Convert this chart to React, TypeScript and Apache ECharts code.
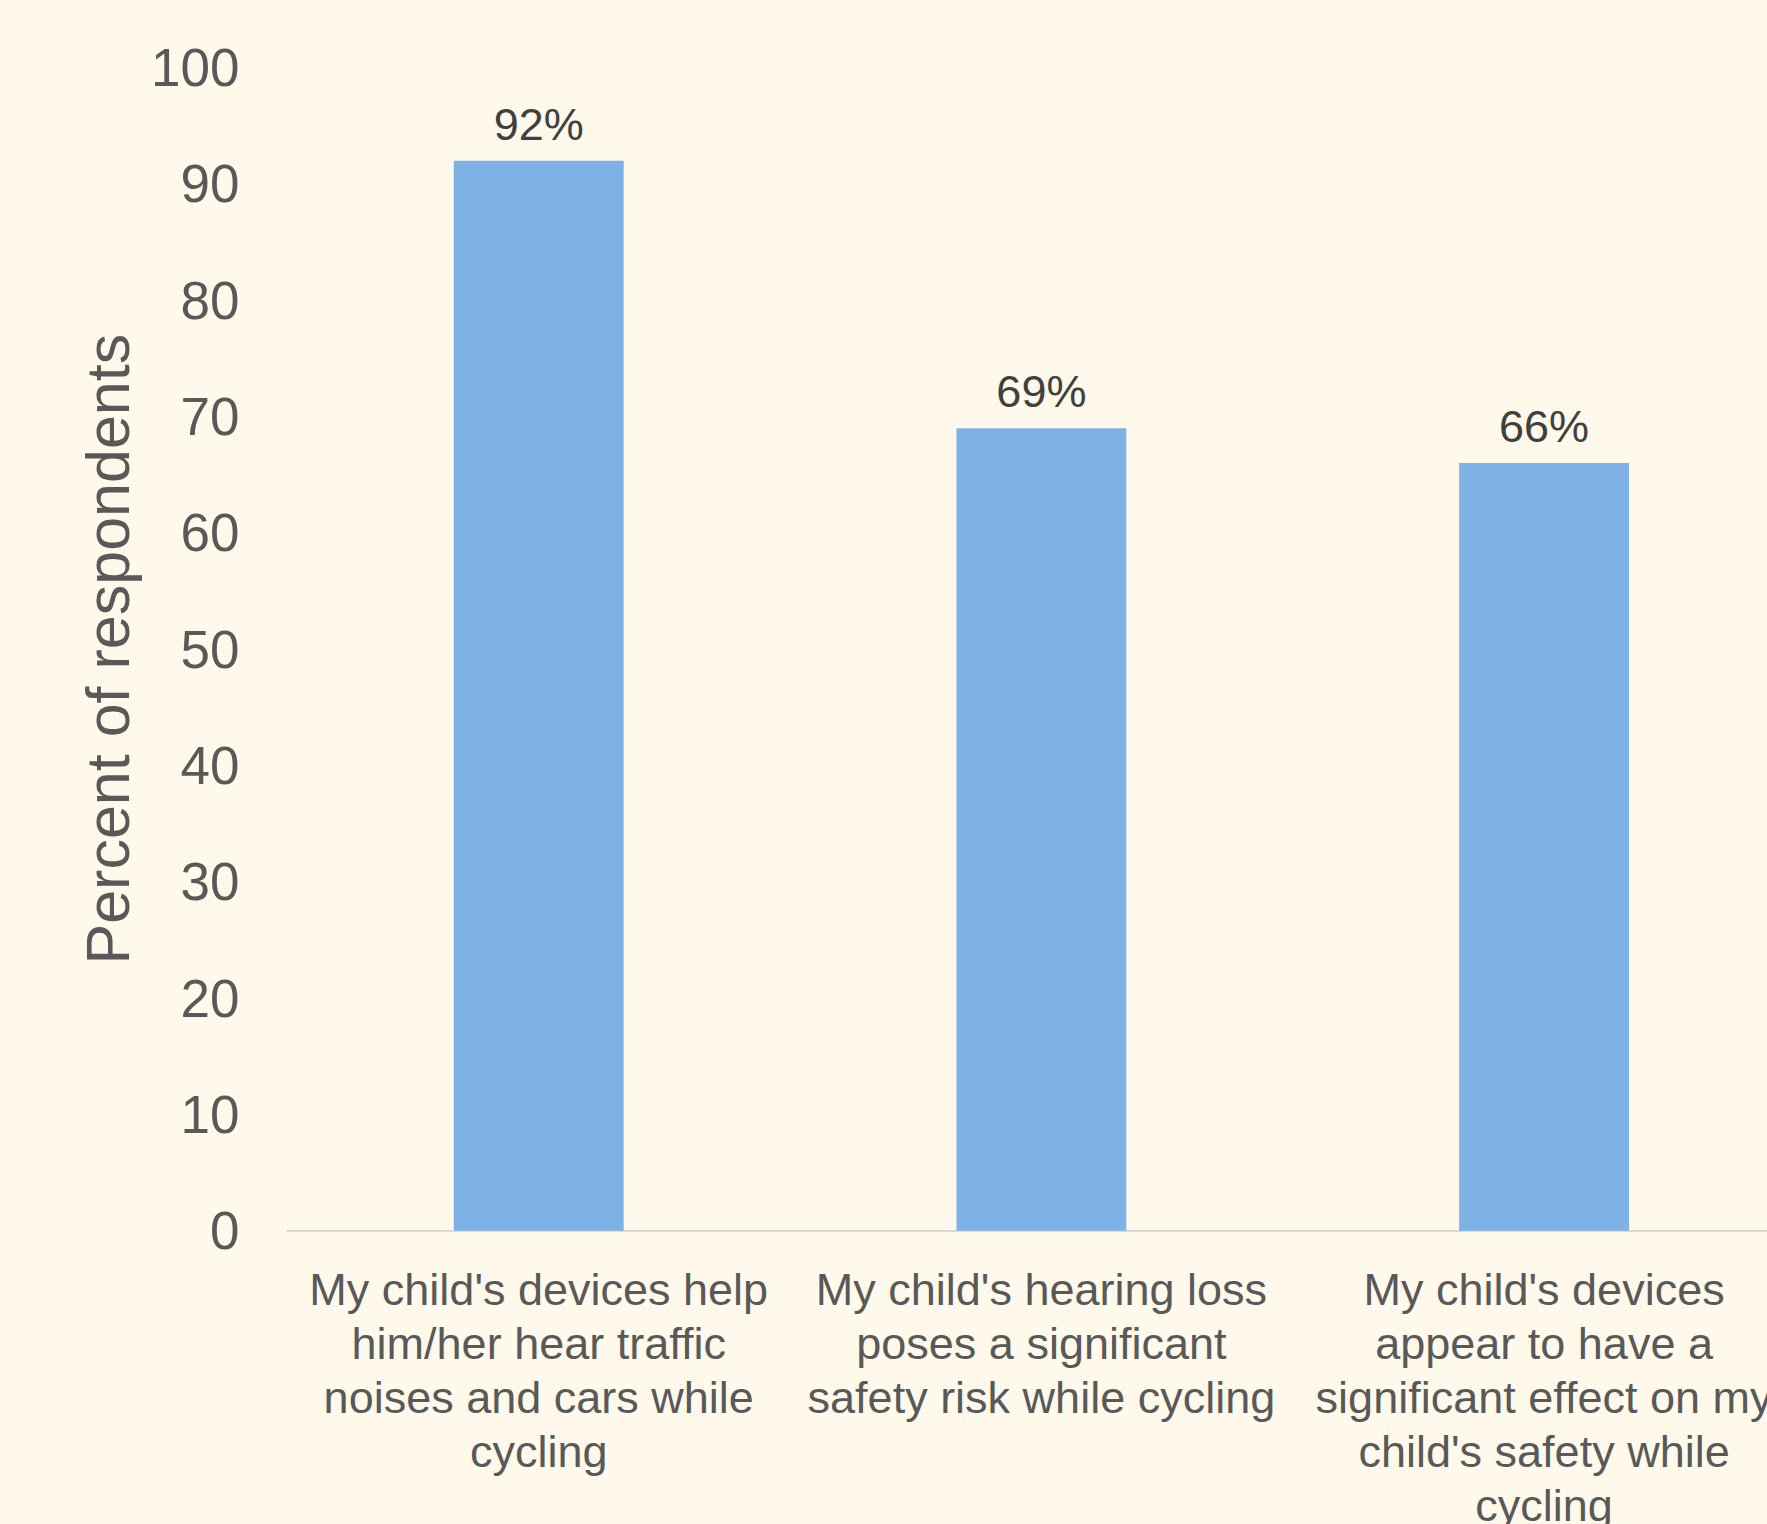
import React, { useEffect, useRef } from "react";
import * as echarts from "echarts";

const categories = [
  "My child's devices help\nhim/her hear traffic\nnoises and cars while\ncycling",
  "My child's hearing loss\nposes a significant\nsafety risk while cycling",
  "My child's devices\nappear to have a\nsignificant effect on my\nchild's safety while\ncycling",
];
const values = [92, 69, 66];
const yTicks = { min: 0, max: 100, interval: 10 };
const yTitle = "Percent of respondents";

export default function App() {
  const ref = useRef<HTMLDivElement>(null);
  useEffect(() => {
    if (!ref.current) return;
    const chart = echarts.init(ref.current, undefined, { renderer: "svg" });
    chart.setOption({
      animation: false,
      backgroundColor: "#FEF9EB",
      textStyle: { fontFamily: "Liberation Sans, Arial, sans-serif" },
      grid: {
        left: 287.4,
        right: -28.4,
        top: 67.6,
        bottom: 293.3,
        containLabel: false,
        outerBoundsMode: "none",
      },
      xAxis: {
        type: "category",
        data: categories,
        axisLine: { show: true, lineStyle: { color: "#D9D9D9", width: 2 } },
        axisTick: { show: false },
        axisLabel: {
          interval: 0,
          margin: 32,
          color: "#595959",
          fontSize: 45,
          lineHeight: 54,
          align: "center",
        },
        splitLine: { show: false },
      },
      yAxis: {
        type: "value",
        min: yTicks.min,
        max: yTicks.max,
        interval: yTicks.interval,
        name: yTitle,
        nameLocation: "middle",
        nameGap: 149,
        nameRotate: 90,
        nameTextStyle: { color: "#595959", fontSize: 61 },
        axisLine: { show: false },
        axisTick: { show: false },
        splitLine: { show: false },
        axisLabel: { color: "#595959", fontSize: 53, margin: 48 },
      },
      series: [
        {
          type: "bar",
          data: values,
          barWidth: "33.8%",
          itemStyle: { color: "#7EB1E5" },
          label: {
            show: true,
            position: "top",
            distance: 14,
            color: "#404040",
            fontSize: 45,
            formatter: (p: any) => p.value + "%",
          },
        },
      ],
    });
    return () => chart.dispose();
  }, []);
  return (
    <div
      ref={ref}
      style={{
        position: "fixed",
        left: 0,
        top: 0,
        width: 1767,
        height: 1524,
        background: "#FEF9EB",
      }}
    />
  );
}
